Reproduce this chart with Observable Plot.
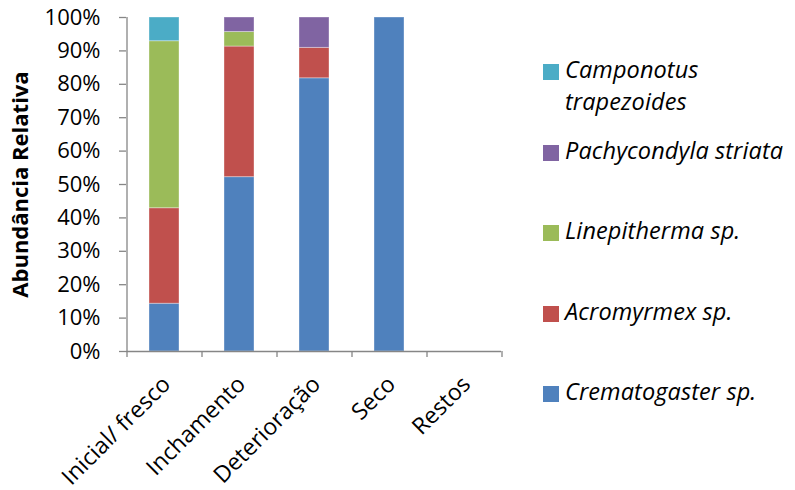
<!DOCTYPE html>
<html>
<head>
<meta charset="utf-8">
<script src="https://cdn.jsdelivr.net/npm/d3@7"></script>
<script src="https://cdn.jsdelivr.net/npm/@observablehq/plot@0.6"></script>
<style>
  html, body { margin: 0; padding: 0; background: #fff; }
  #wrap { position: relative; width: 795px; height: 490px; font-family: "Open Sans", sans-serif; }
  #legend { position: absolute; left: 543px; top: 0; }
  .item { position: absolute; left: 0; display: flex; align-items: flex-start; white-space: nowrap; }
  .sw { width: 16px; height: 16px; flex: none; }
  .lab { margin-left: 6px; font-style: italic; font-size: 23.5px; line-height: 32px; margin-top: -11px; color: #000; letter-spacing: 0.1px; }
</style>
</head>
<body>
<div id="wrap"></div>
<script>
// Decomposition stages (x categories)
const stages = ["Inicial/ fresco", "Inchamento", "Deterioração", "Seco", "Restos"];

// Ant species, stacked bottom to top
const species = ["Crematogaster sp.", "Acromyrmex sp.", "Linepitherma sp.", "Pachycondyla striata", "Camponotus trapezoides"];
const colors = ["#4F81BD", "#C0504D", "#9BBB59", "#8064A2", "#4BACC6"];

// Relative abundance (%) per stage
const crematogaster = [14.3, 52.2, 81.8, 100, 0];
const acromyrmex    = [28.6, 39.1, 9.1, 0, 0];
const linepitherma  = [50.0, 4.35, 0, 0, 0];
const pachycondyla  = [0, 4.35, 9.1, 0, 0];
const camponotus    = [7.1, 0, 0, 0, 0];

// Y axis tick values
const yTicks = [0, 10, 20, 30, 40, 50, 60, 70, 80, 90, 100];

const series = [crematogaster, acromyrmex, linepitherma, pachycondyla, camponotus];
const rows = [];
species.forEach((sp, si) => {
  stages.forEach((st, i) => {
    rows.push({stage: st, species: sp, value: series[si][i]});
  });
});

const axisGray = "#868686";
const step = 75; // band step in pixels: (width - marginLeft - marginRight) / stages.length

const chart = Plot.plot({
  width: 795,
  height: 490,
  marginLeft: 126,
  marginRight: 294,
  marginTop: 17,
  marginBottom: 139,
  style: {fontFamily: "'Open Sans', sans-serif", fontSize: "22px", color: "#000", background: "#fff"},
  x: {domain: stages, paddingInner: 0.6, paddingOuter: 0.3},
  y: {domain: [0, 100]},
  color: {domain: species, range: colors},
  marks: [
    Plot.barY(rows, {
      x: "stage",
      y: "value",
      fill: "species",
      order: species,
      stroke: "#fff",
      strokeOpacity: 0.35,
      strokeWidth: 1
    }),
    // x baseline
    Plot.ruleY([0], {stroke: axisGray, strokeWidth: 1.3}),
    // y axis line
    Plot.ruleX([stages[0]], {dx: -step / 2, stroke: axisGray, strokeWidth: 1.3}),
    // category boundary ticks
    Plot.axisX(stages, {tickSize: 6, dx: -step / 2, fill: "none", stroke: axisGray, strokeWidth: 1.3, label: null}),
    Plot.axisX([stages[stages.length - 1]], {tickSize: 6, dx: step / 2, fill: "none", stroke: axisGray, strokeWidth: 1.3, label: null}),
    // rotated category labels
    Plot.text(stages, {
      x: d => d,
      frameAnchor: "bottom",
      rotate: -45,
      textAnchor: "end",
      lineAnchor: "middle",
      dx: 2,
      dy: 29,
      fontSize: 23,
      fill: "#000"
    }),
    Plot.axisY(yTicks, {
      tickSize: 7,
      tickPadding: 19,
      tickFormat: d => d + "%",
      stroke: axisGray,
      strokeWidth: 1.3,
      fill: "#000",
      fontSize: 22,
      label: null
    }),
    Plot.text(["Abundância Relativa"], {
      frameAnchor: "left",
      rotate: -90,
      textAnchor: "middle",
      dx: -106,
      fontWeight: "bold",
      fontSize: 22,
      fill: "#000"
    })
  ]
});

const wrap = document.getElementById("wrap");
wrap.appendChild(chart);

// Legend on the right, top entry first
const legend = document.createElement("div");
legend.id = "legend";
const order = species.map((s, i) => i).reverse();
order.forEach((si, k) => {
  const item = document.createElement("div");
  item.className = "item";
  item.style.top = (64 + k * 80.5) + "px";
  const sw = document.createElement("div");
  sw.className = "sw";
  sw.style.background = colors[si];
  const lab = document.createElement("div");
  lab.className = "lab";
  const name = species[si];
  if (name === "Camponotus trapezoides") {
    lab.style.whiteSpace = "normal";
    lab.style.width = "160px";
  }
  lab.textContent = name;
  item.appendChild(sw);
  item.appendChild(lab);
  legend.appendChild(item);
});
wrap.appendChild(legend);
</script>
</body>
</html>
